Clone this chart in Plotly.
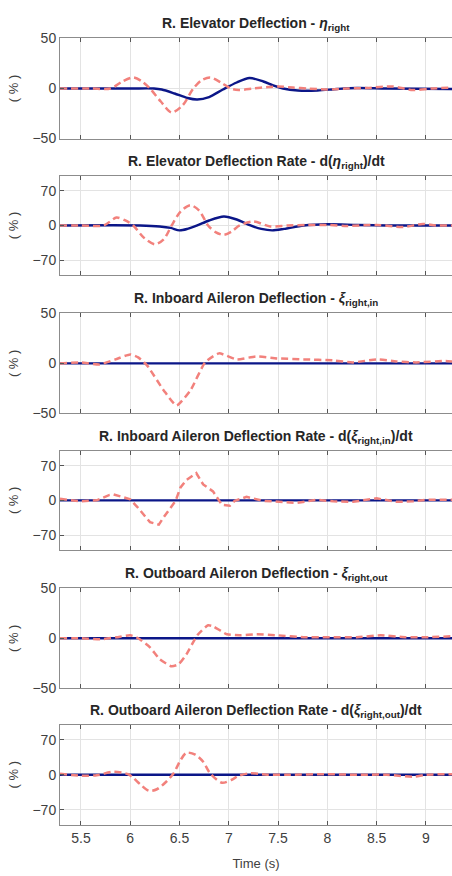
import plotly.graph_objects as go

W, H = 452, 876

# ---------------- data ----------------
t_range = [5.287, 9.265]
x_ticks = [5.5, 6, 6.5, 7, 7.5, 8, 8.5, 9]
x_ticklabels = ["5.5", "6", "6.5", "7", "7.5", "8", "8.5", "9"]

titles = [
    "R. Elevator Deflection - <i>η</i><sub>right</sub>",
    "R. Elevator Deflection Rate - d(<i>η</i><sub>right</sub>)/dt",
    "R. Inboard Aileron Deflection - <i>ξ</i><sub>right,in</sub>",
    "R. Inboard Aileron Deflection Rate - d(<i>ξ</i><sub>right,in</sub>)/dt",
    "R. Outboard Aileron Deflection - <i>ξ</i><sub>right,out</sub>",
    "R. Outboard Aileron Deflection Rate - d(<i>ξ</i><sub>right,out</sub>)/dt",
]
y_ranges = [[-50, 50], [-100, 100], [-50, 50], [-100, 100], [-50, 50], [-100, 100]]
y_ticks = [[-50, 0, 50], [-70, 0, 70], [-50, 0, 50], [-70, 0, 70], [-50, 0, 50], [-70, 0, 70]]

# panel 1 : elevator deflection
p1_blue_t = [5.287, 6.0, 6.24, 6.32, 6.45, 6.58, 6.68, 6.8, 6.94, 7.08, 7.21, 7.35, 7.45, 7.55, 7.7, 7.9, 8.1, 8.3, 8.6, 9.265]
p1_blue_v = [0, 0, 0, -1, -5, -9.5, -11, -8.5, -1, 6, 10.5, 7, 3, 0, -2, -2, -0.5, 0.5, 0, -0.5]
p1_red_t = [5.287, 5.6, 5.8, 5.92, 6.03, 6.12, 6.20, 6.31, 6.42, 6.53, 6.64, 6.72, 6.81, 6.92, 7.02, 7.1, 7.25, 7.4, 7.5, 7.65, 7.8, 8.0, 8.2, 8.4, 8.66, 8.87, 9.05, 9.265]
p1_red_v = [0, 0, 0, 7, 11, 7, 0, -13, -24, -17, 0, 8, 11, 6, 0, -1.5, 0, 1.5, 2, 1, 0, -1, 0, 0.5, 2, -1.5, 0, 1]

# panel 2 : elevator deflection rate
p2_blue_t = [5.287, 6.1, 6.3, 6.41, 6.5, 6.58, 6.68, 6.8, 6.95, 7.08, 7.22, 7.33, 7.44, 7.56, 7.76, 8.0, 8.3, 8.6, 9.265]
p2_blue_v = [0, 0, -2, -5, -10, -7, 0, 10, 18, 12, 0, -7, -10, -7, 0, 2.5, 1, 0, 0]
p2_red_t = [5.287, 5.5, 5.73, 5.86, 5.95, 6.03, 6.14, 6.25, 6.34, 6.42, 6.51, 6.61, 6.7, 6.79, 6.87, 6.95, 7.03, 7.11, 7.25, 7.42, 7.6, 7.8, 8.0, 8.2, 8.5, 8.77, 8.97, 9.1, 9.265]
p2_red_v = [0, 0, 0, 16, 10, 0, -25, -38, -28, 0, 28, 41, 30, 0, -14, -19, -12, 0, 8, -2, 0, 1, 1, -1, 1, -3, 3, 0, 0]

# panel 3 : inboard aileron deflection
p3_blue_t = [5.287, 9.265]
p3_blue_v = [0, 0]
p3_red_t = [5.287, 5.49, 5.69, 5.85, 6.0, 6.08, 6.17, 6.34, 6.47, 6.61, 6.76, 6.9, 7.08, 7.28, 7.49, 7.76, 8.06, 8.26, 8.5, 8.7, 8.9, 9.2, 9.265]
p3_red_v = [0, 1, -1, 4, 9, 6, -2, -27, -42, -27, 1, 10, 4, 7, 5, 4, 3, 1, 4, 2, 1, 2.5, 2]

# panel 4 : inboard aileron deflection rate
p4_blue_t = [5.287, 9.265]
p4_blue_v = [0, 0]
p4_red_t = [5.287, 5.49, 5.66, 5.79, 5.83, 5.93, 6.0, 6.07, 6.14, 6.20, 6.29, 6.34, 6.46, 6.51, 6.57, 6.67, 6.74, 6.84, 6.93, 7.01, 7.06, 7.18, 7.35, 7.55, 7.69, 7.89, 8.06, 8.26, 8.5, 8.7, 8.87, 9.0, 9.2, 9.265]
p4_red_v = [3, -2, 0, 11, 12, 7, 2, -13, -31, -44, -49, -34, -1, 26, 41, 55, 32, 18, -9, -11, -1, 7, -1, -3, -5, 1, -2, -3, 4, -3, -2, 1, 2, 1]

# panel 5 : outboard aileron deflection
p5_blue_t = [5.287, 9.265]
p5_blue_v = [0, 0]
p5_red_t = [5.287, 5.5, 5.7, 5.86, 6.0, 6.08, 6.20, 6.30, 6.42, 6.49, 6.57, 6.68, 6.79, 6.84, 6.98, 7.11, 7.28, 7.49, 7.76, 8.0, 8.3, 8.54, 8.8, 9.0, 9.265]
p5_red_v = [0, 0, -1, 1, 3, 0, -9, -21, -28, -26, -16, 3, 13, 12, 4, 3, 4, 3, 1, 1, 1, 3, 1, 1, 2]

# panel 6 : outboard aileron deflection rate
p6_blue_t = [5.287, 9.265]
p6_blue_v = [0, 0]
p6_red_t = [5.287, 5.5, 5.66, 5.83, 5.98, 6.03, 6.10, 6.19, 6.27, 6.37, 6.44, 6.51, 6.57, 6.66, 6.74, 6.81, 6.93, 7.03, 7.10, 7.22, 7.39, 7.6, 8.0, 8.3, 8.6, 8.87, 9.0, 9.265]
p6_red_v = [2, -2, -1, 6, 1, -6, -19, -32, -29, -13, 3, 29, 44, 40, 26, 3, -16, -10, -2, 3, 0, 0, 1, 0, 0, -4, 0, 1]

blue_series = [(p1_blue_t, p1_blue_v), (p2_blue_t, p2_blue_v), (p3_blue_t, p3_blue_v),
               (p4_blue_t, p4_blue_v), (p5_blue_t, p5_blue_v), (p6_blue_t, p6_blue_v)]
red_series = [(p1_red_t, p1_red_v), (p2_red_t, p2_red_v), (p3_red_t, p3_red_v),
              (p4_red_t, p4_red_v), (p5_red_t, p5_red_v), (p6_red_t, p6_red_v)]
red_smooth = [0.8, 0.8, 0.5, 0.0, 0.5, 0.8]

# ---------------- layout geometry (pixels) ----------------
panel_px = [(31, 133), (171, 272), (311, 413), (451, 552), (591, 693), (730, 832)]
x0_px = 60

BLUE = "#0b1688"
RED = "#f2817c"
FONT = "Liberation Sans, Arial, sans-serif"
GRID = "#e3e3e3"
AXC = "#8c8c8c"
TXT = "#404040"

fig = go.Figure()
layout = dict(
    width=W, height=H, margin=dict(l=0, r=0, t=0, b=0),
    paper_bgcolor="white", plot_bgcolor="white", showlegend=False,
    font=dict(family=FONT, color=TXT),
)
annotations = []

for i in range(6):
    k = "" if i == 0 else str(i + 1)
    top, bot = panel_px[i]
    dom = [1 - bot / H, 1 - top / H]
    bt, bv = blue_series[i]
    rt, rv = red_series[i]
    fig.add_trace(go.Scatter(x=bt, y=bv, mode="lines", xaxis="x" + k, yaxis="y" + k,
                             line=dict(color=BLUE, width=2.4, shape="spline", smoothing=0.8)))
    rline = dict(color=RED, width=2.5, dash="7px,4px")
    if red_smooth[i] > 0:
        rline.update(shape="spline", smoothing=red_smooth[i])
    fig.add_trace(go.Scatter(x=rt, y=rv, mode="lines", xaxis="x" + k, yaxis="y" + k, line=rline))

    xa = dict(
        domain=[x0_px / W, 1], anchor="y" + k, range=t_range,
        tickvals=x_ticks, ticktext=x_ticklabels, showticklabels=(i == 5),
        ticks="inside", ticklen=4, tickcolor="#555555", tickwidth=1,
        showline=True, linecolor=AXC, linewidth=1, mirror="ticks",
        showgrid=True, gridcolor=GRID, gridwidth=1, zeroline=False,
        tickfont=dict(size=14, color=TXT, family=FONT),
    )
    if i == 5:
        xa["title"] = dict(text="Time (s)", standoff=14, font=dict(size=13, color=TXT, family=FONT))
    layout["xaxis" + k] = xa
    layout["yaxis" + k] = dict(
        domain=dom, anchor="x" + k, range=y_ranges[i], tickvals=y_ticks[i],
        ticks="inside", ticklen=4, tickcolor="#555555", tickwidth=1,
        showline=True, linecolor=AXC, linewidth=1, mirror=False,
        showgrid=True, gridcolor=GRID, gridwidth=1, zeroline=False,
        tickfont=dict(size=14, color=TXT, family=FONT),
        title=dict(text="( % )", standoff=10, font=dict(size=13, color=TXT, family=FONT)),
    )
    annotations.append(dict(
        text="<b>" + titles[i] + "</b>", xref="paper", yref="paper",
        x=256 / W, y=1 - (top - 3) / H, xanchor="center", yanchor="bottom",
        showarrow=False, font=dict(size=14, color="#262626", family=FONT),
    ))

layout["annotations"] = annotations
fig.update_layout(**layout)
fig.write_html("out.html")
